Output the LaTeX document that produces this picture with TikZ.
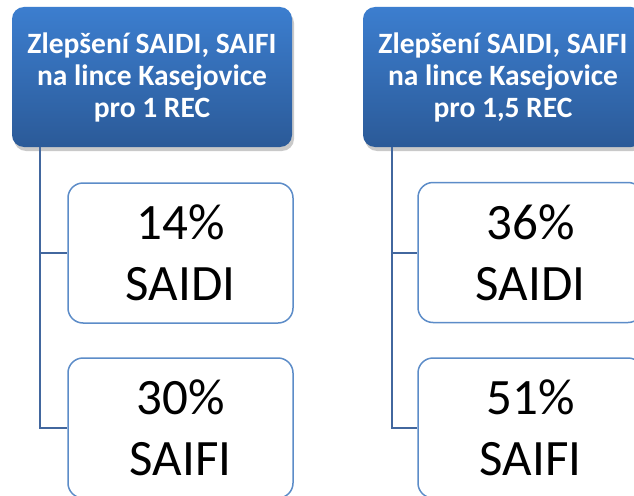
\documentclass[tikz,border=0pt]{standalone}
\usepackage{fontspec}
\setmainfont{Carlito}
\usetikzlibrary{shadows}
\definecolor{hdtop}{RGB}{60,126,207}
\definecolor{hdbot}{RGB}{43,90,152}
\definecolor{boxline}{RGB}{92,140,200}
\definecolor{conn}{RGB}{66,103,158}
\tikzset{
  header/.style={rectangle, rounded corners=12pt, minimum width=280pt, minimum height=140pt,
    top color=hdtop, bottom color=hdbot, draw=none, text=white, align=center,
    font=\fontsize{29.5}{32}\selectfont\bfseries,
    drop shadow={shadow xshift=2pt, shadow yshift=-4pt, opacity=0.35, fill=black!60}},
  valbox/.style={rectangle, rounded corners=15pt, minimum width=225pt, minimum height=140pt,
    draw=boxline, line width=1.5pt, fill=white, align=center,
    font=\fontsize{51}{61}\selectfont},
  connline/.style={draw=conn, line width=2pt}
}
\begin{document}
\begin{tikzpicture}[x=1pt,y=-1pt]
\useasboundingbox (0,0) rectangle (634,495);
\clip (0,0) rectangle (634,495);
\fill[white] (0,0) rectangle (634,495);
% left column
\node[header] (h1) at (152,77) {Zlepšení SAIDI, SAIFI\\na lince Kasejovice\\pro 1 REC};
\coordinate (c1) at (40,147);
\node[valbox] (l1) at (180.5,253) {14\%\\SAIDI};
\node[valbox] (l2) at (180.5,428) {30\%\\SAIFI};
\draw[connline] (c1) |- (l1.west);
\draw[connline] (c1) |- (l2.west);
% right column
\node[header] (h2) at (503,77) {Zlepšení SAIDI, SAIFI\\na lince Kasejovice\\pro 1,5 REC};
\coordinate (c2) at (392,147);
\node[valbox] (r1) at (530.5,252.5) {36\%\\SAIDI};
\node[valbox] (r2) at (530.5,428) {51\%\\SAIFI};
\draw[connline] (c2) |- (r1.west);
\draw[connline] (c2) |- (r2.west);
\end{tikzpicture}
\end{document}
